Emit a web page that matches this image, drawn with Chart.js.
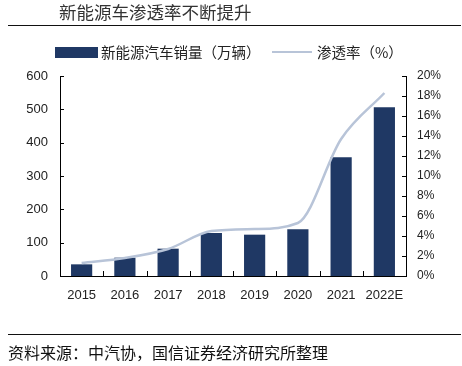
<!DOCTYPE html>
<html><head><meta charset="utf-8">
<script src="https://cdn.jsdelivr.net/npm/chart.js@4/dist/chart.umd.min.js"></script>
<style>
html,body{margin:0;padding:0;background:#fff;}
#wrap{position:relative;width:462px;height:366px;overflow:hidden;}
canvas{position:absolute;left:0;top:0;}
.t{position:absolute;white-space:nowrap;font-family:"Noto Sans CJK SC",sans-serif;}
.hr{position:absolute;left:8px;width:453px;height:1px;background:#111;}
</style></head>
<body>
<div id="wrap">
<canvas id="c" width="462" height="366"></canvas>
<div class="t" style="left:59px;top:0px;font-size:17.5px;line-height:24px;color:#333;">新能源车渗透率不断提升</div>
<div class="hr" style="top:25px;"></div>
<div style="position:absolute;left:55px;top:47px;width:43px;height:11px;background:#1f3864;"></div>
<div class="t" style="left:101px;top:42px;font-size:14.5px;line-height:20px;color:#222;">新能源汽车销量（万辆）</div>
<div style="position:absolute;left:272px;top:51px;width:40px;height:2px;background:#b8c4d8;"></div>
<div class="t" style="left:317px;top:42px;font-size:14.5px;line-height:20px;color:#222;">渗透率（%）</div>
<div class="hr" style="top:334px;"></div>
<div class="t" style="left:8px;top:341px;font-size:16px;line-height:22px;color:#111;">资料来源：中汽协，国信证券经济研究所整理</div>
</div>
<script>
const categories = ["2015","2016","2017","2018","2019","2020","2021","2022E"];
const salesValues = [35, 55, 82, 129, 124, 140, 356, 506];
const penetrationValues = [1.3, 1.8, 2.7, 4.5, 4.7, 5.3, 13.7, 18.3];
const leftTicks = [0,100,200,300,400,500,600];
const rightTicks = [0,2,4,6,8,10,12,14,16,18,20];

const BAR = '#1f3864', LINE = '#b8c4d8';
const numFont = {family:'"Liberation Sans", Arial, sans-serif', size:13};

const innerTicks = {
  id:'innerTicks',
  afterDraw(chart){
    const ctx = chart.ctx, {x, y, y1} = chart.scales;
    const a = chart.chartArea;
    ctx.save();
    ctx.strokeStyle = '#000'; ctx.lineWidth = 1;
    ctx.beginPath();
    y.ticks.forEach(t=>{const p=Math.round(y.getPixelForValue(t.value))+0.5; ctx.moveTo(a.left,p); ctx.lineTo(a.left+4,p);});
    y1.ticks.forEach(t=>{const p=Math.round(y1.getPixelForValue(t.value))+0.5; ctx.moveTo(a.right,p); ctx.lineTo(a.right-4,p);});
    for(let i=1;i<categories.length;i++){
      const p = Math.round((x.getPixelForValue(i-1)+x.getPixelForValue(i))/2)+0.5;
      ctx.moveTo(p,a.bottom); ctx.lineTo(p,a.bottom-5);
    }
    ctx.stroke();
    ctx.restore();
  }
};

new Chart(document.getElementById('c'), {
  type:'bar',
  data:{
    labels:categories,
    datasets:[
      {type:'line', label:'渗透率（%）', data:penetrationValues, yAxisID:'y1', borderColor:LINE, backgroundColor:LINE, borderWidth:2.5, pointRadius:0, cubicInterpolationMode:'monotone', order:0},
      {type:'bar', label:'新能源汽车销量（万辆）', data:salesValues, yAxisID:'y', backgroundColor:BAR, categoryPercentage:1, barPercentage:0.49, order:1}
    ]
  },
  options:{
    responsive:false, devicePixelRatio:1, animation:false,
    layout:{padding:{top:76,left:0,right:0,bottom:0}},
    plugins:{legend:{display:false}, tooltip:{enabled:false}},
    scales:{
      x:{offset:true, grid:{display:false, drawTicks:false}, border:{display:true,color:'#000',width:1},
         ticks:{font:numFont, color:'#222', padding:12, maxRotation:0, minRotation:0, autoSkip:false},
         afterFit(s){s.height=90;}},
      y:{position:'left', min:0, max:600, grid:{display:false, drawTicks:false}, border:{display:true,color:'#000',width:1},
         afterBuildTicks(s){s.ticks = leftTicks.map(v=>({value:v}));},
         ticks:{font:numFont, color:'#222', padding:12},
         afterFit(s){s.width=60;}},
      y1:{position:'right', min:0, max:20, grid:{display:false, drawTicks:false}, border:{display:true,color:'#000',width:1},
         afterBuildTicks(s){s.ticks = rightTicks.map(v=>({value:v}));},
         ticks:{font:{family:'"Liberation Sans", Arial, sans-serif', size:12}, color:'#222', padding:11, callback:v=>v+'%'},
         afterFit(s){s.width=56;}}
    }
  },
  plugins:[innerTicks]
});
</script>
</body></html>
